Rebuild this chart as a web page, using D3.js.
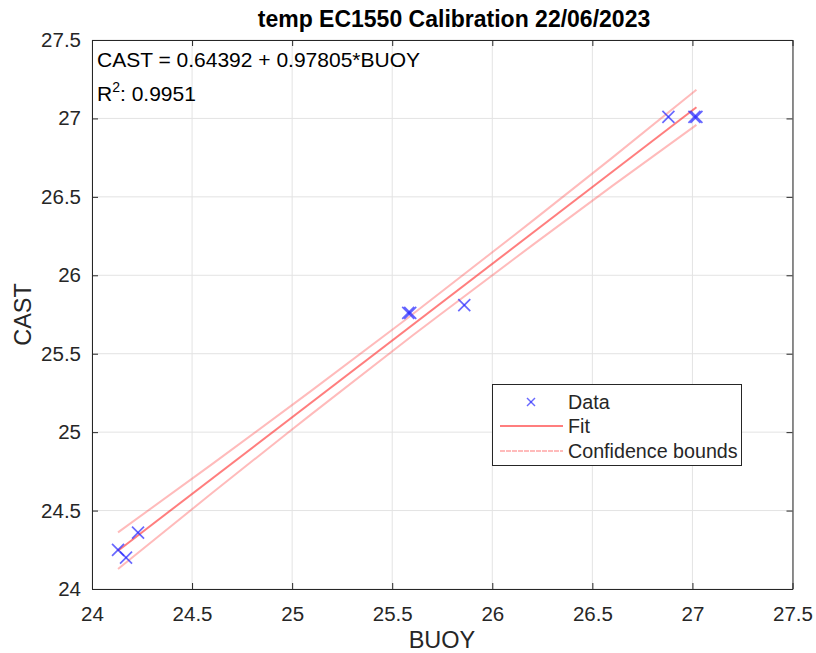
<!DOCTYPE html>
<html><head><meta charset="utf-8">
<script src="https://cdn.jsdelivr.net/npm/d3@7"></script>
<style>body{margin:0;background:#fff;} svg{display:block;font-family:"Liberation Sans",Arial,sans-serif;}</style>
</head><body>
<svg id="c" width="816" height="653"></svg>
<script>
// Data
const buoy = [24.13, 24.17, 24.23, 25.58, 25.59, 25.86, 26.88, 27.01, 27.02];
const cast = [24.25, 24.20, 24.36, 25.76, 25.76, 25.81, 27.01, 27.01, 27.01];
const fitIntercept = 0.64392, fitSlope = 0.97805;
const fitX = [24.13, 27.02];
const boundX     = [24.13, 24.6, 25.1, 25.6, 26.1, 26.6, 27.02];
const boundUpper = [24.361, 24.796, 25.268, 25.750, 26.246, 26.750, 27.183];
const boundLower = [24.127, 24.612, 25.118, 25.614, 26.096, 26.570, 26.959];
const xTicks = [24, 24.5, 25, 25.5, 26, 26.5, 27, 27.5];
const yTicks = [24, 24.5, 25, 25.5, 26, 26.5, 27, 27.5];
const titleText = "temp EC1550 Calibration 22/06/2023";
const eqText = "CAST = 0.64392 + 0.97805*BUOY";
const r2Value = "0.9951";
const legendLabels = ["Data", "Fit", "Confidence bounds"];

const svg = d3.select("#c");
const L = 92, R = 792.5, T = 40, B = 589;
const x = d3.scaleLinear().domain([24, 27.5]).range([L, R]);
const y = d3.scaleLinear().domain([24, 27.5]).range([B, T]);
const axisCol = "#262626";
const FONT = "'Liberation Sans',Arial,sans-serif";

// grid
const g = svg.append("g");
g.selectAll(".gx").data(xTicks).enter().append("line")
  .attr("x1", d => x(d)).attr("x2", d => x(d)).attr("y1", T).attr("y2", B)
  .attr("stroke", "#e3e3e3").attr("stroke-width", 1);
g.selectAll(".gy").data(yTicks).enter().append("line")
  .attr("y1", d => y(d)).attr("y2", d => y(d)).attr("x1", L).attr("x2", R)
  .attr("stroke", "#e3e3e3").attr("stroke-width", 1);

// axes
const fmt = d => d3.format("")(d);
const xAxis = svg.append("g").attr("transform", `translate(0,${B})`)
  .call(d3.axisBottom(x).tickValues(xTicks).tickFormat(fmt).tickSizeInner(-6).tickSizeOuter(0).tickPadding(17));
const yAxis = svg.append("g").attr("transform", `translate(${L},0)`)
  .call(d3.axisLeft(y).tickValues(yTicks).tickFormat(fmt).tickSizeInner(-6).tickSizeOuter(0).tickPadding(11));
const xTop = svg.append("g").attr("transform", `translate(0,${T})`)
  .call(d3.axisTop(x).tickValues(xTicks).tickFormat("").tickSizeInner(-6).tickSizeOuter(0));
const yRight = svg.append("g").attr("transform", `translate(${R},0)`)
  .call(d3.axisRight(y).tickValues(yTicks).tickFormat("").tickSizeInner(-6).tickSizeOuter(0));
[xAxis, yAxis, xTop, yRight].forEach(a => {
  a.selectAll("path").attr("stroke", axisCol).attr("stroke-width", 1);
  a.selectAll("line").attr("stroke", axisCol);
  a.selectAll("text").attr("fill", axisCol).style("font-size", "20.5px").style("font-family", FONT);
});

// bounds
const lineGen = d3.line().x(d => x(d[0])).y(d => y(d[1])).curve(d3.curveNatural);
[boundUpper, boundLower].forEach(arr => {
  svg.append("path").datum(boundX.map((v, i) => [v, arr[i]]))
    .attr("d", lineGen).attr("fill", "none")
    .attr("stroke", "rgba(255,60,60,0.35)").attr("stroke-width", 2);
});
// fit
svg.append("path").datum(fitX.map(v => [v, fitIntercept + fitSlope * v]))
  .attr("d", d3.line().x(d => x(d[0])).y(d => y(d[1])))
  .attr("fill", "none").attr("stroke", "rgba(255,40,40,0.6)").attr("stroke-width", 2);

// data markers
const ms = 6;
const mk = svg.append("g").attr("stroke", "rgba(40,40,255,0.7)").attr("stroke-width", 1.7);
buoy.forEach((b, i) => {
  const cx = x(b), cy = y(cast[i]);
  mk.append("line").attr("x1", cx - ms).attr("y1", cy - ms).attr("x2", cx + ms).attr("y2", cy + ms);
  mk.append("line").attr("x1", cx - ms).attr("y1", cy + ms).attr("x2", cx + ms).attr("y2", cy - ms);
});

// title & labels
svg.append("text").attr("x", 454).attr("y", 27).attr("text-anchor", "middle")
  .attr("font-weight", "bold").style("font-size", "23px").attr("fill", "#000").text(titleText);
svg.append("text").attr("x", 442).attr("y", 648).attr("text-anchor", "middle")
  .style("font-size", "23.5px").attr("fill", axisCol).text("BUOY");
svg.append("text").attr("transform", `translate(31,${(T + B) / 2}) rotate(-90)`).attr("text-anchor", "middle")
  .style("font-size", "23.5px").attr("fill", axisCol).text("CAST");

// annotation
svg.append("text").attr("x", 97).attr("y", 67).style("font-size", "21px").attr("fill", "#000").text(eqText);
const r2 = svg.append("text").attr("x", 97).attr("y", 101).style("font-size", "21px").attr("fill", "#000");
r2.append("tspan").text("R");
r2.append("tspan").attr("dy", -9).style("font-size", "14px").text("2");
r2.append("tspan").attr("dy", 9).text(": " + r2Value);

// legend
const lg = svg.append("g");
lg.append("rect").attr("x", 492.5).attr("y", 384.5).attr("width", 249).attr("height", 81)
  .attr("fill", "#fff").attr("stroke", axisCol).attr("stroke-width", 1);
const rows = [402, 426, 451];
const lx = 531;
lg.append("line").attr("x1", lx - 4).attr("y1", rows[0] - 4).attr("x2", lx + 4).attr("y2", rows[0] + 4).attr("stroke", "rgba(40,40,255,0.7)").attr("stroke-width", 1.5);
lg.append("line").attr("x1", lx - 4).attr("y1", rows[0] + 4).attr("x2", lx + 4).attr("y2", rows[0] - 4).attr("stroke", "rgba(40,40,255,0.7)").attr("stroke-width", 1.5);
lg.append("line").attr("x1", 500).attr("x2", 563).attr("y1", rows[1]).attr("y2", rows[1]).attr("stroke", "rgba(255,40,40,0.6)").attr("stroke-width", 2);
lg.append("line").attr("x1", 500).attr("x2", 563).attr("y1", rows[2]).attr("y2", rows[2]).attr("stroke", "rgba(255,60,60,0.35)").attr("stroke-width", 2).attr("stroke-dasharray", "5,1");
legendLabels.forEach((t, i) => {
  lg.append("text").attr("x", 568).attr("y", rows[i] + 7).style("font-size", "19.7px").attr("fill", axisCol).text(t);
});
</script>
</body></html>
